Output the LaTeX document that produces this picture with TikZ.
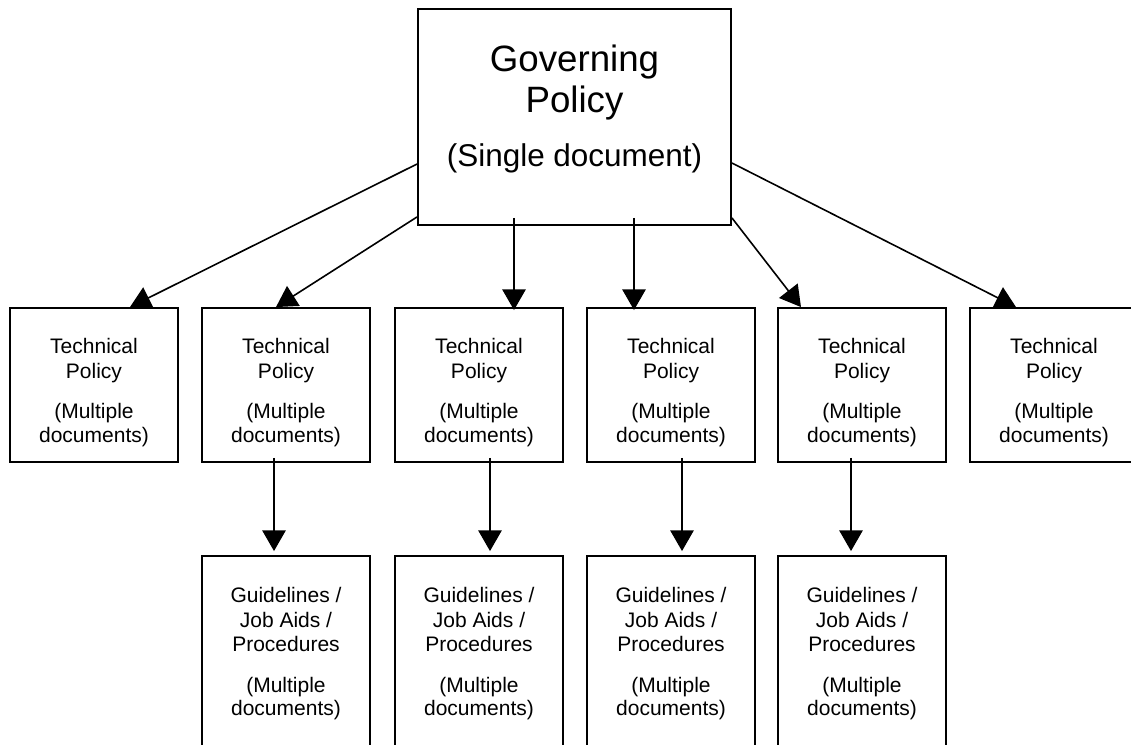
\documentclass[tikz,border=0pt]{standalone}
\usepackage{fontspec}
\setmainfont{Liberation Sans}
\usetikzlibrary{arrows.meta}
\tikzset{
  boxline/.style={draw=black, line width=1.4pt, fill=white, inner sep=0pt},
  govbox/.style={boxline, minimum width=234.75pt, minimum height=162pt},
  tpbox/.style={boxline, minimum width=126pt, minimum height=115.5pt},
  gdbox/.style={boxline, minimum width=126pt, minimum height=165pt},
  bigtxt/.style={inner sep=0pt, anchor=base, font=\fontsize{27.5pt}{30pt}\selectfont},
  midtxt/.style={inner sep=0pt, anchor=base, font=\fontsize{23.6pt}{26pt}\selectfont},
  smalltxt/.style={inner sep=0pt, anchor=base, font=\fontsize{15.75pt}{18pt}\selectfont},
  conn/.style={draw=black, line width=1.2pt, -{Triangle[length=15.5pt,width=17.5pt]}}
}
\begin{document}
\begin{tikzpicture}[x=0.75pt, y=-0.75pt]
  \useasboundingbox (0,0) rectangle (1131,745);
  \clip (0,0) rectangle (1131,745);
  \fill[white] (0,0) rectangle (1131,745);

  % governing policy box
  \node[govbox] (gov) at (574.5,117) {};
  \node[bigtxt] (govA) at (574.5,72) {Governing};
  \node[bigtxt] (govB) at (574.5,113) {Policy};
  \node[midtxt] (govC) at (574.5,167) {(Single document)};

  % technical policy boxes
  \foreach \i/\cx in {1/94,2/286,3/479,4/671,5/862,6/1054} {
    \node[tpbox] (tp\i) at (\cx,385) {};
    \node[smalltxt] (tp\i a) at (\cx,353) {Technical};
    \node[smalltxt] (tp\i b) at (\cx,378) {Policy};
    \node[smalltxt] (tp\i c) at (\cx,418) {(Multiple};
    \node[smalltxt] (tp\i d) at (\cx,442) {documents)};
  }

  % guideline boxes
  \foreach \i/\cx in {1/286,2/479,3/671,4/862} {
    \node[gdbox] (gd\i) at (\cx,666) {};
    \node[smalltxt] (gd\i a) at (\cx,602) {Guidelines /};
    \node[smalltxt] (gd\i b) at (\cx,627) {Job Aids /};
    \node[smalltxt] (gd\i c) at (\cx,651) {Procedures};
    \node[smalltxt] (gd\i d) at (\cx,692) {(Multiple};
    \node[smalltxt] (gd\i e) at (\cx,715) {documents)};
  }

  % connectors from the governing policy
  \draw[conn] ([yshift=-35.25pt]gov.west) -- ([xshift=27pt]tp1.north);
  \draw[conn] ([yshift=6.75pt]gov.south west) -- ([xshift=-7.5pt]tp2.north);
  \draw[conn] ([xshift=-45.375pt,yshift=6pt]gov.south) -- ([xshift=26.25pt,yshift=-2.25pt]tp3.north);
  \draw[conn] ([xshift=44.625pt,yshift=6pt]gov.south) -- ([xshift=-27.75pt,yshift=-2.25pt]tp4.north);
  \draw[conn] ([yshift=6pt]gov.south east) -- ([xshift=-45.75pt]tp5.north);
  \draw[conn] ([yshift=-34.5pt]gov.east) -- ([xshift=-28.5pt]tp6.north);

  % connectors from technical policies to guidelines
  \draw[conn] ([xshift=-9pt,yshift=3.75pt]tp2.south) -- ([xshift=-9pt,yshift=3pt]gd1.north);
  \draw[conn] ([xshift=8.25pt,yshift=3.75pt]tp3.south) -- ([xshift=8.25pt,yshift=3pt]gd2.north);
  \draw[conn] ([xshift=8.25pt,yshift=3.75pt]tp4.south) -- ([xshift=8.25pt,yshift=3pt]gd3.north);
  \draw[conn] ([xshift=-8.25pt,yshift=3.75pt]tp5.south) -- ([xshift=-8.25pt,yshift=3pt]gd4.north);
\end{tikzpicture}
\end{document}
